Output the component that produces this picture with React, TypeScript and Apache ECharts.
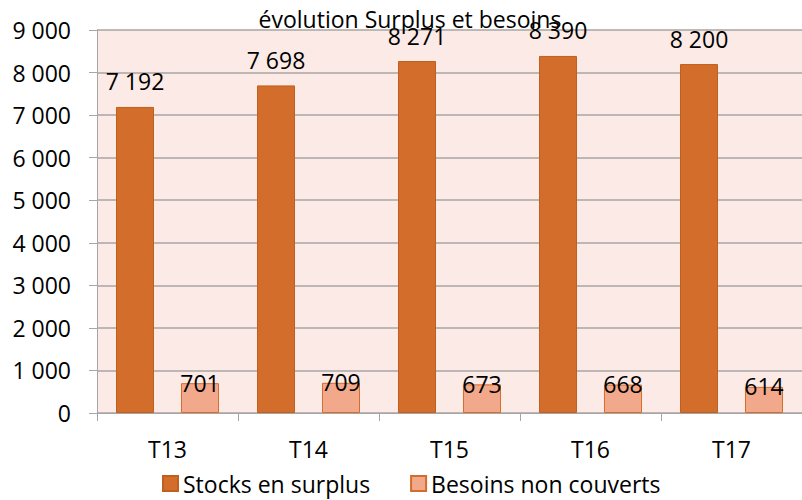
import React, { useEffect, useRef } from "react";
import * as echarts from "echarts";

const categories = ["T13", "T14", "T15", "T16", "T17"];
const stocks = [7192, 7698, 8271, 8390, 8200];
const besoins = [701, 709, 673, 668, 614];
const seriesNames = ["Stocks en surplus", "Besoins non couverts"];
const titleText = "évolution Surplus et besoins";

const FONT = "'Open Sans', sans-serif";
const FS = 23;
const fmt = (v: number) => String(v).replace(/\B(?=(\d{3})+(?!\d))/g, " ");

export default function App() {
  const ref = useRef<HTMLDivElement>(null);
  useEffect(() => {
    if (!ref.current) return;
    const chart = echarts.init(ref.current, null, { renderer: "svg" });
    chart.setOption({
      animation: false,
      backgroundColor: "#ffffff",
      title: {
        text: titleText,
        left: 405,
        textAlign: "center",
        top: 2,
        textStyle: { fontFamily: FONT, fontSize: FS, fontWeight: "normal", color: "#000" },
      },
      legend: {
        top: 467,
        left: 157,
        itemWidth: 15,
        itemHeight: 15,
        itemGap: 40,
        icon: "rect",
        textStyle: { fontFamily: FONT, fontSize: FS, color: "#000" },
        data: seriesNames,
      },
      grid: {
        left: 97,
        top: 30,
        width: 710,
        height: 383,
        show: true,
        backgroundColor: "#FBEAE6",
        borderWidth: 0,
      },
      xAxis: {
        type: "category",
        data: categories,
        axisLine: { show: true, lineStyle: { color: "#A6A6A6", width: 1 } },
        axisTick: { show: true, length: 8, lineStyle: { color: "#A6A6A6" } },
        axisLabel: { fontFamily: FONT, fontSize: FS, color: "#000", margin: 24 },
      },
      yAxis: {
        type: "value",
        min: 0,
        max: 9000,
        interval: 1000,
        axisLine: { show: true, lineStyle: { color: "#A6A6A6", width: 1 } },
        axisTick: { show: true, length: 8, lineStyle: { color: "#A6A6A6" } },
        splitLine: { show: true, lineStyle: { color: "#A8A4A3", width: 1.5 } },
        axisLabel: {
          fontFamily: FONT,
          fontSize: FS,
          color: "#000",
          margin: 26,
          formatter: (v: number) => fmt(v),
        },
      },
      series: [
        {
          name: seriesNames[0],
          type: "bar",
          data: stocks,
          barWidth: 38,
          barGap: "71%",
          itemStyle: { color: "#D36D2B", borderColor: "#C0601F", borderWidth: 1 },
          label: {
            show: true,
            position: "top",
            distance: 14,
            fontFamily: FONT,
            fontSize: FS,
            color: "#000",
            formatter: (p: any) => fmt(p.value),
          },
        },
        {
          name: seriesNames[1],
          type: "bar",
          data: besoins,
          barWidth: 38,
          barGap: "71%",
          itemStyle: { color: "#F2A98B", borderColor: "#D36D2B", borderWidth: 1 },
          label: {
            show: true,
            position: "insideTop",
            distance: 0,
            offset: [0, -12],
            fontFamily: FONT,
            fontSize: FS,
            color: "#000",
            formatter: (p: any) => fmt(p.value),
          },
        },
      ],
    });
    return () => chart.dispose();
  }, []);
  return (
    <div
      ref={ref}
      style={{ position: "fixed", left: 0, top: 0, width: 802, height: 500 }}
    />
  );
}
